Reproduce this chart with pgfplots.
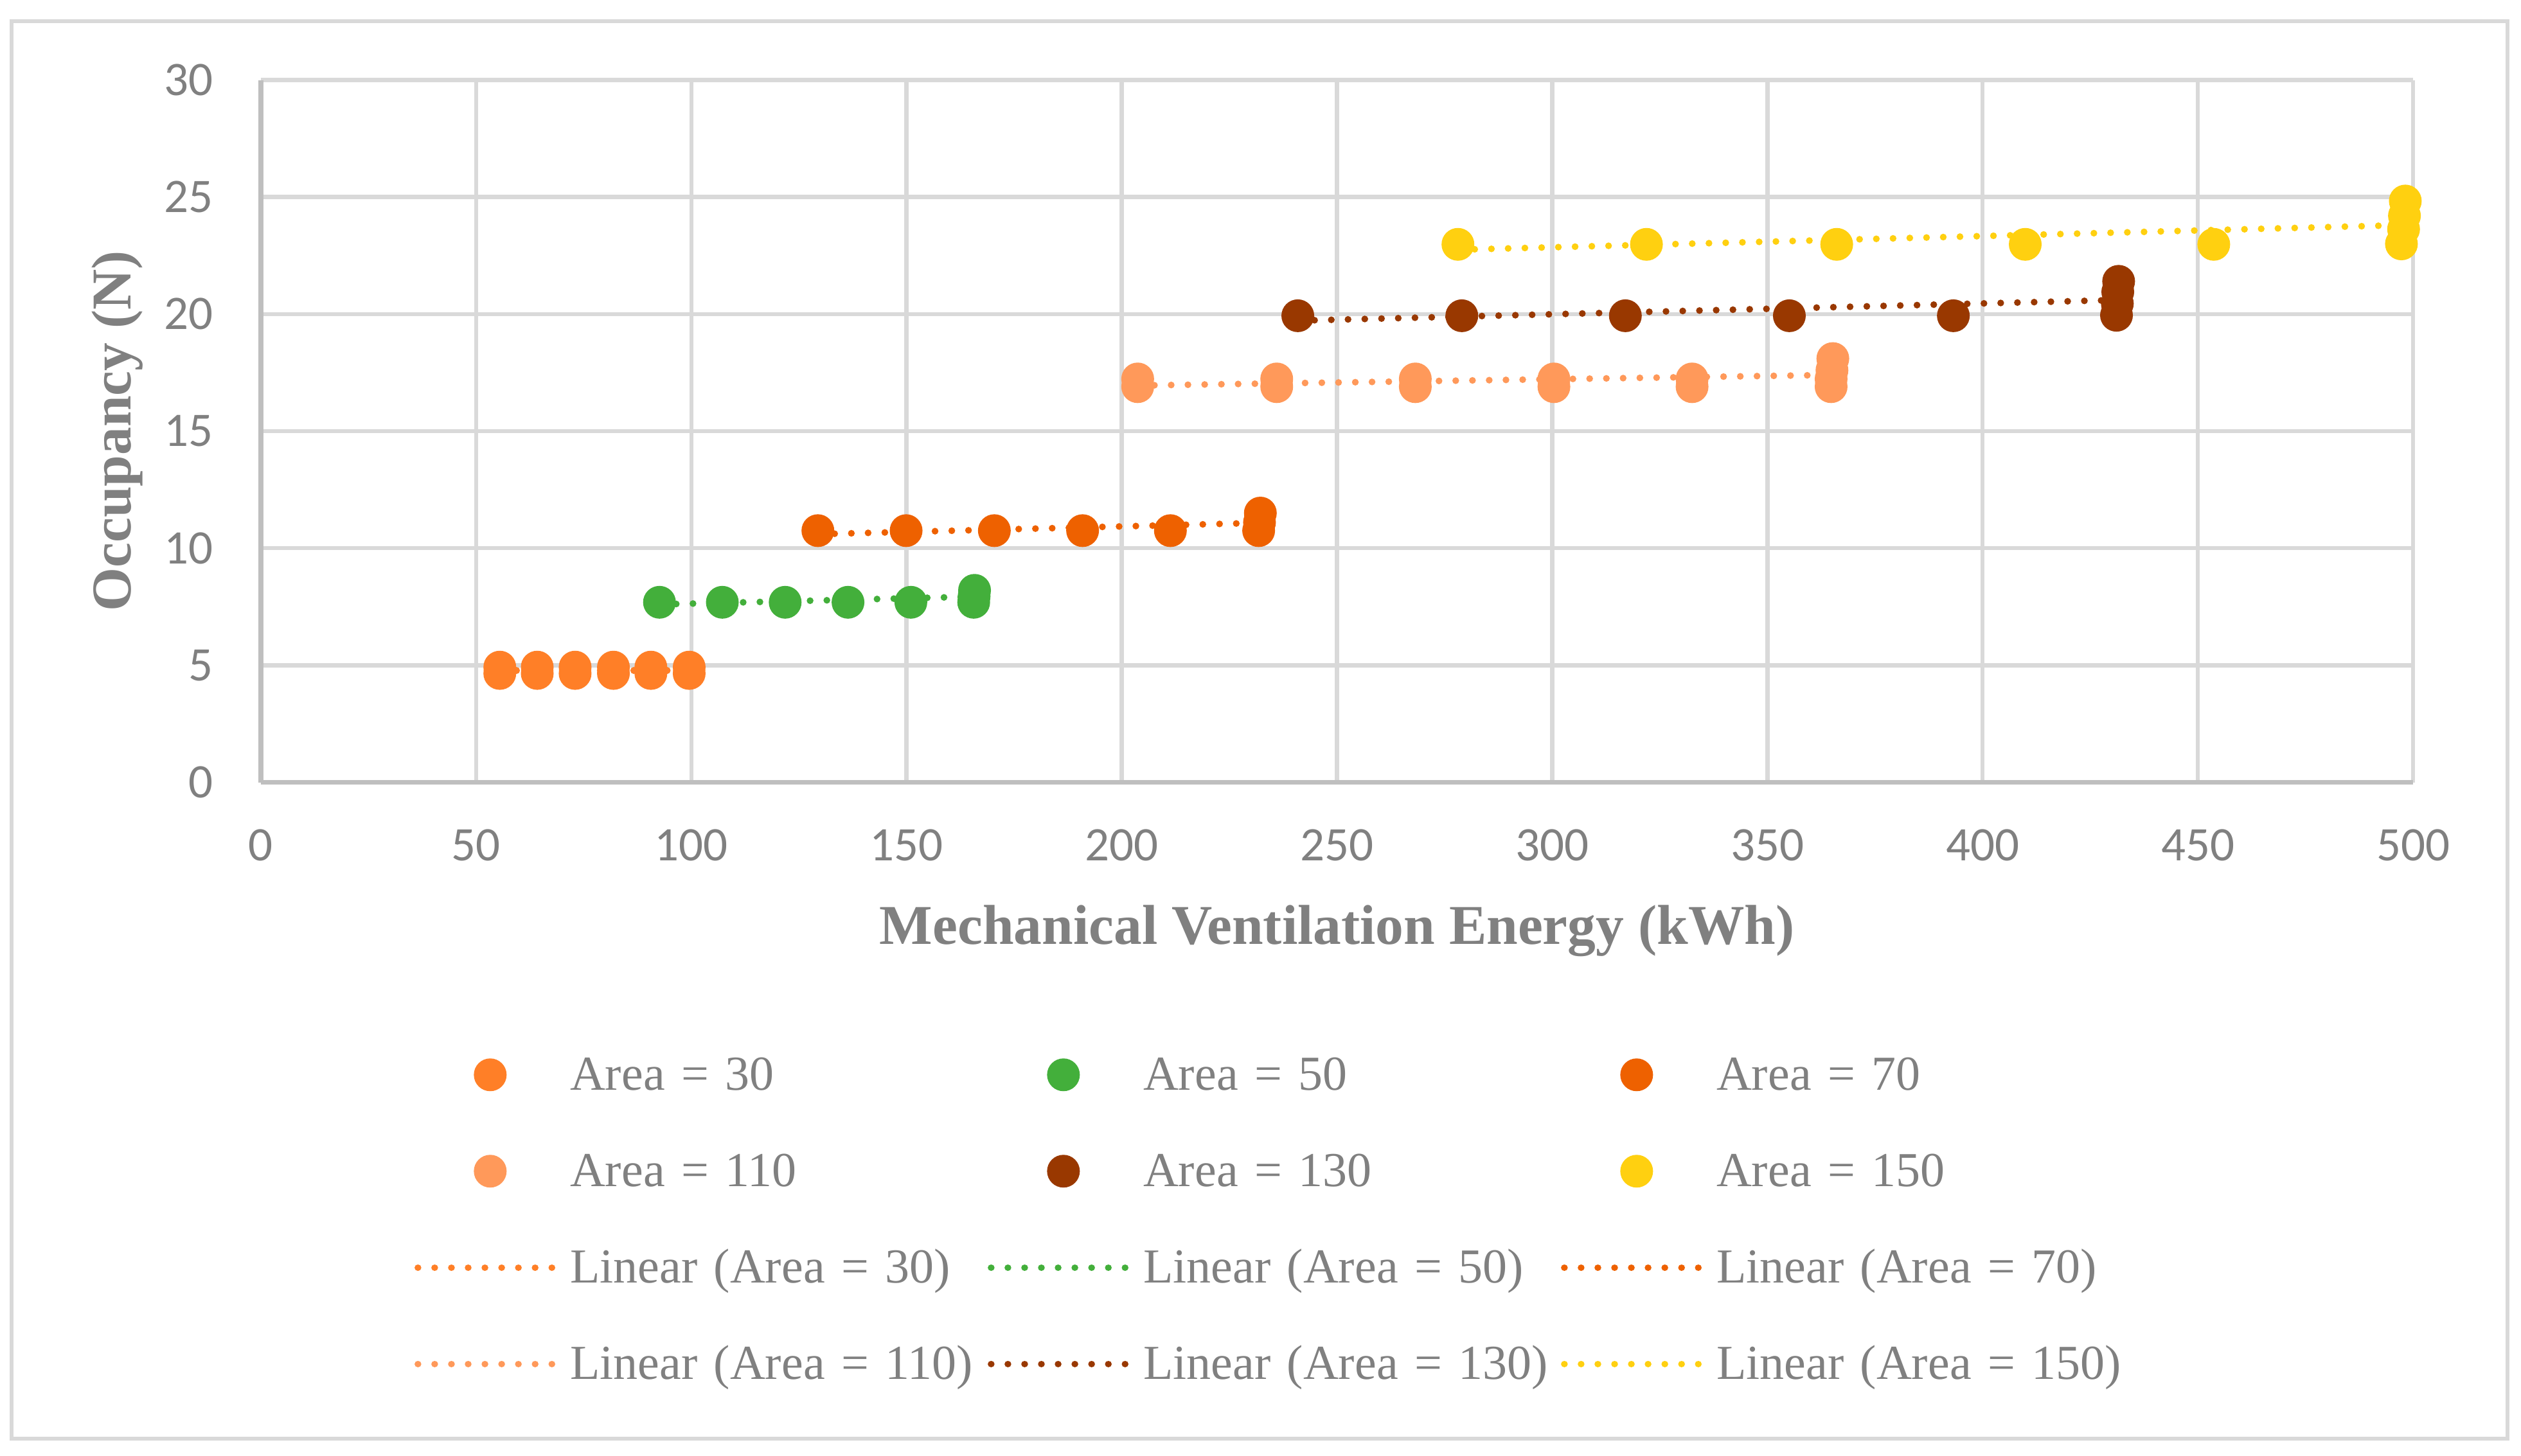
\documentclass[border=0pt]{standalone}
\usepackage{fontspec}
\setmainfont{Liberation Serif}
\newfontfamily\tickfont{Carlito}
\usepackage{pgfplots}
\pgfplotsset{compat=1.18}

\definecolor{txt}{HTML}{808080}
\definecolor{gridc}{HTML}{D9D9D9}
\definecolor{axc}{HTML}{BFBFBF}
\definecolor{cA}{HTML}{FF7F27}
\definecolor{cB}{HTML}{43AF3B}
\definecolor{cC}{HTML}{EE6100}
\definecolor{cD}{HTML}{FF995A}
\definecolor{cE}{HTML}{993800}
\definecolor{cF}{HTML}{FFD010}

\pgfplotsset{
  mk/.style={only marks, mark=*, mark size=4.9pt, color=#1,
    legend image code/.code={\path (0pt,0pt) (45pt,0pt); \draw[overlay,##1] plot coordinates {(22.5pt,0pt)};}},
  tl/.style={color=#1, no marks, line width=2.1pt, line cap=round, dash pattern=on 0.01pt off 5.2pt,
    legend image code/.code={\path (0pt,0pt) (45pt,0pt); \draw[overlay,##1] (0pt,0pt) -- (45pt,0pt);}},
}

\begin{document}
\begin{tikzpicture}
\useasboundingbox (0,0) rectangle (784.6pt,453pt);
\draw[gridc, line width=1.3pt] (3.6pt,5.2pt) rectangle (780.4pt,446.4pt);
\begin{axis}[
  at={(81.2pt,209.5pt)}, anchor=south west,
  width=669.8pt, height=218.6pt, scale only axis,
  xmin=0, xmax=500, ymin=0, ymax=30,
  xtick distance=50, ytick distance=5,
  axis x line*=bottom, axis y line*=left,
  axis line style={axc, line width=1.5pt, -},
  grid=major, major grid style={gridc, line width=1.3pt},
  major tick length=0pt,
  tick label style={font=\tickfont\fontsize{15}{18}\selectfont, text=txt, inner sep=0pt},
  /pgf/number format/assume math mode=true,
  xticklabel style={yshift=-14.4pt},
  yticklabel style={xshift=-14.6pt},
  xlabel={Mechanical Ventilation Energy (kWh)},
  ylabel={Occupancy (N)},
  every axis x label/.style={at={(axis description cs:0.5,0)}, anchor=base, yshift=-50.3pt,
    font=\bfseries\fontsize{17.5}{21}\selectfont, text=txt},
  every axis y label/.style={at={(axis description cs:-0.0666,0.5)}, rotate=90, anchor=center,
    font=\bfseries\fontsize{17.5}{21}\selectfont, text=txt},
  clip=false,
  legend columns=3,
  legend cell align=left,
  legend style={
    at={(axis description cs:0.0714,-0.3806)}, anchor=north west,
    draw=none, fill=none, inner sep=0pt, outer sep=0pt,
    font=\fontsize{15.2}{18}\selectfont, text=txt,
    row sep=14.3pt,
    nodes={inner sep=0pt, text height=12.5pt, text depth=3.2pt, text width=130pt, align=left},
    /tikz/every odd column/.append style={column sep=1.3pt},
  },
]
% trendlines first, so that the points sit on top (end points)
\addplot[tl=cA, forget plot] coordinates {(55.5,4.78)(99.5,4.78)};
\addplot[tl=cB, forget plot] coordinates {(92.6,7.6)(165.6,7.93)};
\addplot[tl=cC, forget plot] coordinates {(129.4,10.6)(231.8,11.08)};
\addplot[tl=cD, forget plot] coordinates {(203.7,16.95)(364.8,17.4)};
\addplot[tl=cE, forget plot] coordinates {(240.9,19.72)(431.1,20.6)};
\addplot[tl=cF, forget plot] coordinates {(278.1,22.75)(497.5,23.8)};
% measured points
\addplot[mk=cA] coordinates {(55.5,4.65)(55.5,4.92)(64.2,4.65)(64.2,4.92)(73.0,4.65)(73.0,4.92)
  (81.9,4.65)(81.9,4.92)(90.6,4.65)(90.6,4.92)(99.5,4.65)(99.5,4.92)};
\addlegendentry{Area = 30}
\addplot[mk=cB] coordinates {(92.6,7.69)(107.2,7.69)(121.8,7.69)(136.4,7.69)(151.0,7.69)
  (165.6,7.69)(165.7,7.95)(165.8,8.2)};
\addlegendentry{Area = 50}
\addplot[mk=cC] coordinates {(129.4,10.75)(149.9,10.75)(170.4,10.75)(190.9,10.75)(211.3,10.75)
  (231.8,10.75)(232.0,11.1)(232.2,11.5)};
\addlegendentry{Area = 70}
\addplot[mk=cD] coordinates {(203.7,16.9)(203.7,17.23)(236.0,16.9)(236.0,17.23)(268.2,16.9)(268.2,17.23)
  (300.4,16.9)(300.4,17.23)(332.5,16.9)(332.5,17.23)(364.8,16.9)(364.8,17.23)(365.0,17.6)(365.2,18.1)};
\addlegendentry{Area = 110}
\addplot[mk=cE] coordinates {(240.9,19.93)(279.0,19.93)(317.0,19.93)(355.1,19.93)(393.2,19.93)
  (431.1,19.95)(431.3,20.45)(431.4,20.95)(431.6,21.4)};
\addlegendentry{Area = 130}
\addplot[mk=cF] coordinates {(278.1,22.98)(321.9,22.98)(366.1,22.98)(409.9,22.98)(453.7,22.98)
  (497.3,23.0)(497.8,23.63)(498.0,24.2)(498.2,24.83)};
\addlegendentry{Area = 150}
\addlegendimage{tl=cA}\addlegendentry{Linear (Area = 30)}
\addlegendimage{tl=cB}\addlegendentry{Linear (Area = 50)}
\addlegendimage{tl=cC}\addlegendentry{Linear (Area = 70)}
\addlegendimage{tl=cD}\addlegendentry{Linear (Area = 110)}
\addlegendimage{tl=cE}\addlegendentry{Linear (Area = 130)}
\addlegendimage{tl=cF}\addlegendentry{Linear (Area = 150)}
\end{axis}
\end{tikzpicture}
\end{document}
